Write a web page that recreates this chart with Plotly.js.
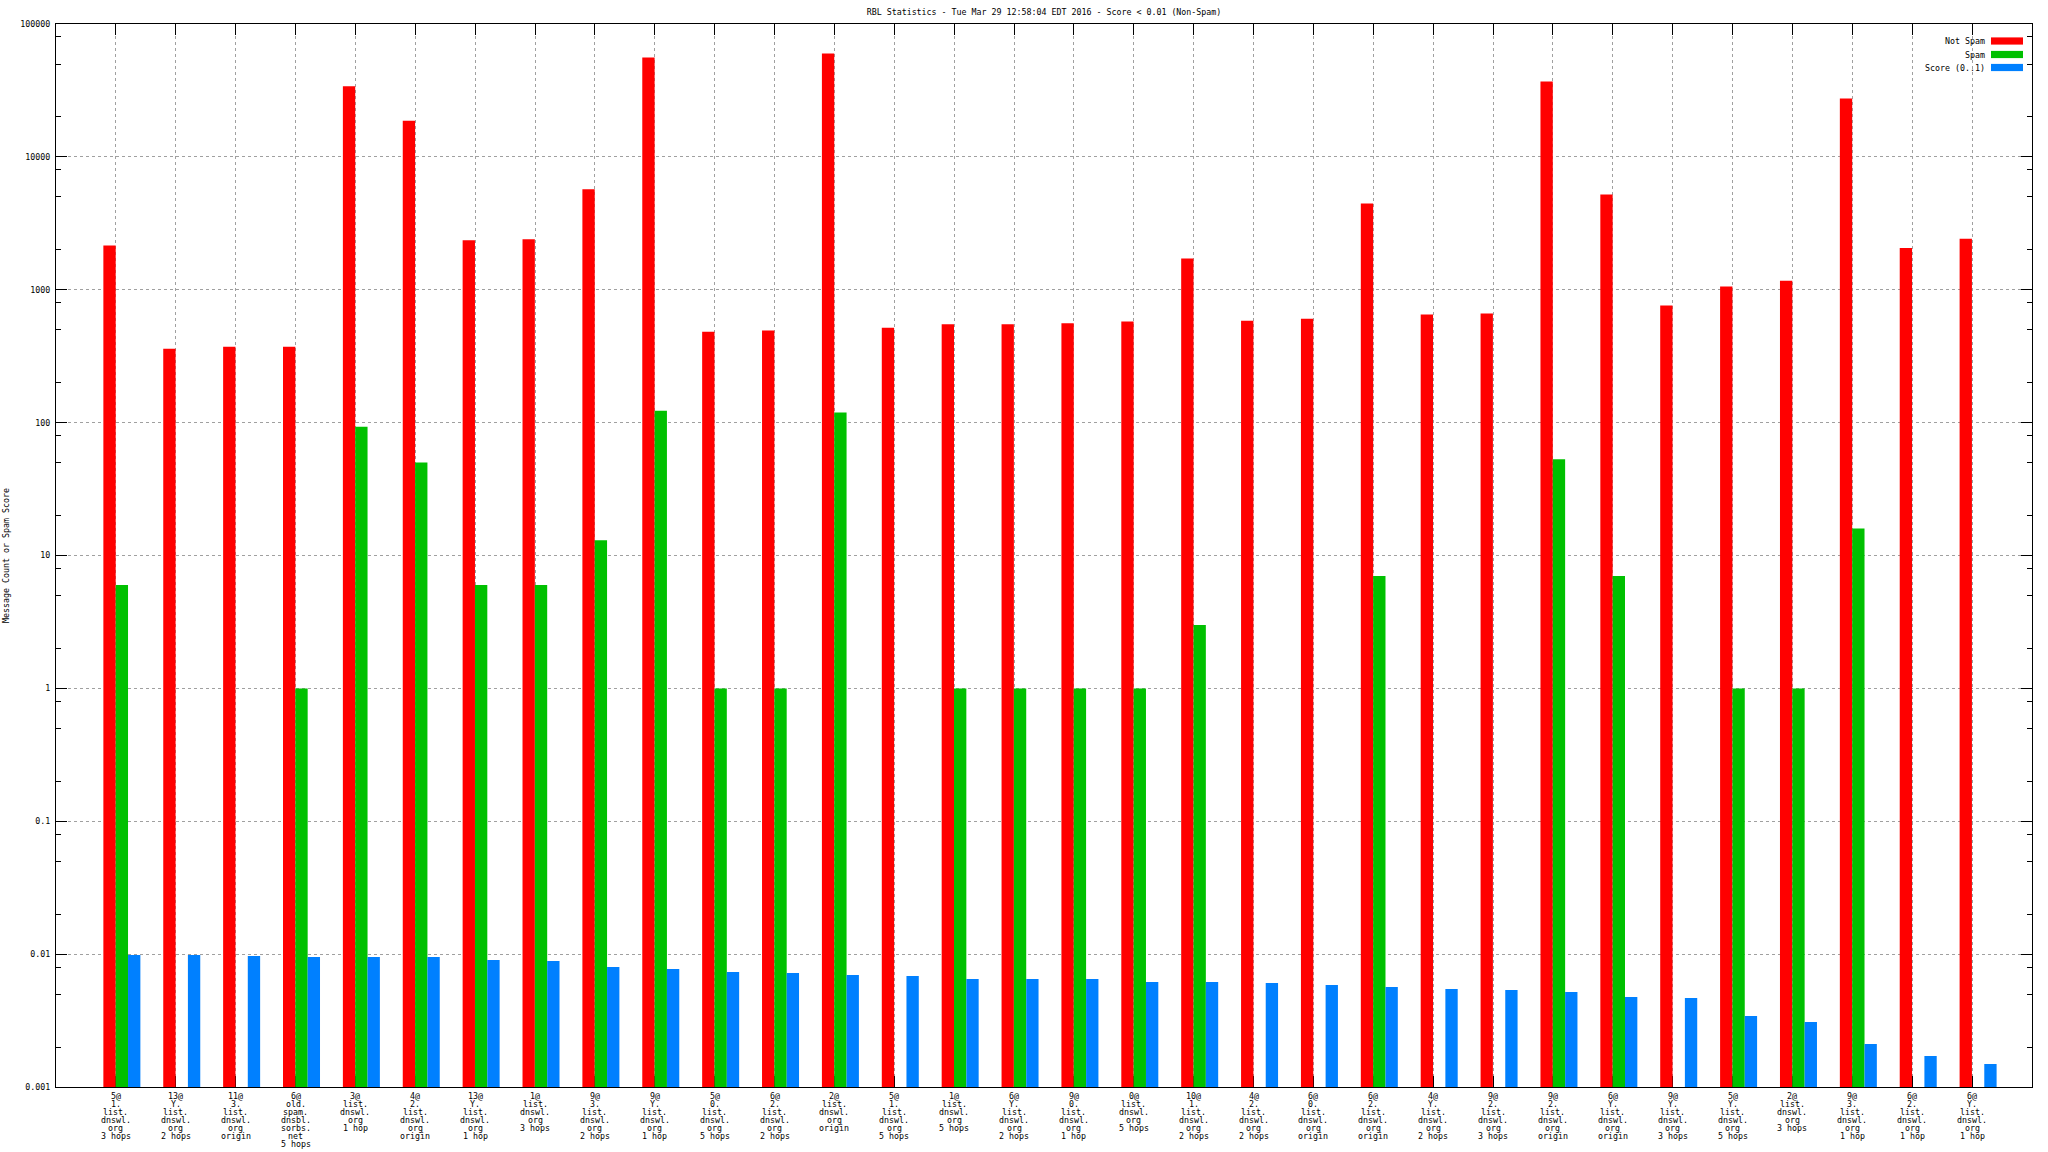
<!DOCTYPE html>
<html>
<head>
<meta charset="utf-8">
<script src="https://cdn.plot.ly/plotly-3.0.1.min.js"></script>
<style>
html,body{margin:0;padding:0;background:#fff;}
#chart{width:2048px;height:1152px;}
</style>
</head>
<body>
<div id="chart"></div>
<script>
// ---- data ----
const categories = [
  "5@\n1.\nlist.\ndnswl.\norg\n3 hops",
  "13@\nY.\nlist.\ndnswl.\norg\n2 hops",
  "11@\n3.\nlist.\ndnswl.\norg\norigin",
  "6@\nold.\nspam.\ndnsbl.\nsorbs.\nnet\n5 hops",
  "3@\nlist.\ndnswl.\norg\n1 hop",
  "4@\n2.\nlist.\ndnswl.\norg\norigin",
  "13@\nY.\nlist.\ndnswl.\norg\n1 hop",
  "1@\nlist.\ndnswl.\norg\n3 hops",
  "9@\n3.\nlist.\ndnswl.\norg\n2 hops",
  "9@\nY.\nlist.\ndnswl.\norg\n1 hop",
  "5@\n0.\nlist.\ndnswl.\norg\n5 hops",
  "6@\n2.\nlist.\ndnswl.\norg\n2 hops",
  "2@\nlist.\ndnswl.\norg\norigin",
  "5@\n1.\nlist.\ndnswl.\norg\n5 hops",
  "1@\nlist.\ndnswl.\norg\n5 hops",
  "6@\nY.\nlist.\ndnswl.\norg\n2 hops",
  "9@\n0.\nlist.\ndnswl.\norg\n1 hop",
  "0@\nlist.\ndnswl.\norg\n5 hops",
  "10@\n1.\nlist.\ndnswl.\norg\n2 hops",
  "4@\n2.\nlist.\ndnswl.\norg\n2 hops",
  "6@\n0.\nlist.\ndnswl.\norg\norigin",
  "6@\n2.\nlist.\ndnswl.\norg\norigin",
  "4@\nY.\nlist.\ndnswl.\norg\n2 hops",
  "9@\n2.\nlist.\ndnswl.\norg\n3 hops",
  "9@\n2.\nlist.\ndnswl.\norg\norigin",
  "6@\nY.\nlist.\ndnswl.\norg\norigin",
  "9@\nY.\nlist.\ndnswl.\norg\n3 hops",
  "5@\nY.\nlist.\ndnswl.\norg\n5 hops",
  "2@\nlist.\ndnswl.\norg\n3 hops",
  "9@\n3.\nlist.\ndnswl.\norg\n1 hop",
  "6@\n2.\nlist.\ndnswl.\norg\n1 hop",
  "6@\nY.\nlist.\ndnswl.\norg\n1 hop"
];
const notSpam = [2150, 360, 372, 372, 34000, 18700, 2360, 2400, 5700, 56000,
  483, 494, 60000, 518, 550, 550, 560, 578, 1720, 585,
  605, 4450, 650, 662, 37000, 5200, 760, 1060, 1170, 27500,
  2060, 2420];
const spam = [6, null, null, 1, 93, 50, 6, 6, 13, 123,
  1, 1, 119, null, 1, 1, 1, 1, 3, null,
  null, 7, null, null, 53, 7, null, 1, 1, 16,
  null, null];
const score = [0.00985, 0.00985, 0.00968, 0.00951, 0.00951, 0.00951, 0.00903, 0.00888, 0.0080, 0.00773,
  0.00734, 0.00721, 0.00697, 0.00684, 0.0065, 0.0065, 0.0065, 0.00617, 0.00617, 0.00606,
  0.00586, 0.00566, 0.00546, 0.00537, 0.00519, 0.00476, 0.00468, 0.00342, 0.00308, 0.00211,
  0.00171, 0.00149];
const seriesNames = ["Not Spam", "Spam", "Score (0..1)"];
const yTickVals = [0.001, 0.01, 0.1, 1, 10, 100, 1000, 10000, 100000];
const yTickText = ["0.001", "0.01", "0.1", "1", "10", "100", "1000", "10000", "100000"];
const titleText = "RBL Statistics - Tue Mar 29 12:58:04 EDT 2016 - Score < 0.01 (Non-Spam)";
const yTitle = "Message Count or Spam Score";

// ---- styling ----
const FONT = "DejaVu Sans Mono, monospace";
const FS = 8.3;
const colors = ["#ff0000", "#00c000", "#0080ff"];
const barW = 0.206;
const offsets = [-0.209, -0.003, 0.203];

const xs = categories.map((_, i) => i);
const values = [notSpam, spam, score];

const traces = values.map((v, k) => ({
  type: "bar",
  name: seriesNames[k],
  x: xs,
  y: v,
  width: barW,
  offset: offsets[k],
  marker: {color: colors[k], line: {width: 0}},
  showlegend: false,
  hoverinfo: "skip"
}));

// minor log ticks at 2,5,8 per decade
const minorVals = [];
for (let e = -3; e < 5; e++) {
  [2, 5, 8].forEach(m => minorVals.push(m * Math.pow(10, e)));
}

const ML = 56, MR = 16, MT = 24, MB = 65;
const W = 2048, H = 1152;
const plotW = W - ML - MR, plotH = H - MT - MB;
const pxX = px => (px - ML) / plotW;
const pxY = py => (H - MB - py) / plotH;

const annotations = [];
// category labels, one line per annotation for tight line spacing
categories.forEach((lab, i) => {
  lab.split("\n").forEach((line, j) => {
    annotations.push({
      x: i, xref: "x", y: 0, yref: "paper",
      text: line, showarrow: false,
      xanchor: "center", yanchor: "middle",
      yshift: -(8.5 + 8 * j),
      font: {family: FONT, size: FS, color: "#000"}
    });
  });
});
// legend text (right aligned, swatch to its right)
const legendY = [41, 54.5, 67.5];
seriesNames.forEach((n, k) => {
  annotations.push({
    x: pxX(1987), xref: "paper", y: pxY(legendY[k]), yref: "paper",
    text: n, showarrow: false, xanchor: "right", yanchor: "middle",
    font: {family: FONT, size: FS, color: "#000"}
  });
});
const shapes = seriesNames.map((n, k) => ({
  type: "rect", xref: "paper", yref: "paper",
  x0: pxX(1991), x1: pxX(2023),
  y0: pxY(legendY[k] + 3.6), y1: pxY(legendY[k] - 3.6),
  fillcolor: colors[k], line: {width: 0}
}));

const layout = {
  width: W, height: H,
  margin: {l: ML, r: MR, t: MT, b: MB, pad: 0},
  paper_bgcolor: "#fff", plot_bgcolor: "#fff",
  barmode: "overlay",
  showlegend: false,
  font: {family: FONT, size: FS, color: "#000"},
  title: {
    text: titleText,
    font: {family: FONT, size: FS, color: "#000"},
    x: 0.5, xref: "paper", xanchor: "center",
    y: 1 - 12 / H, yref: "container", yanchor: "middle"
  },
  xaxis: {
    range: [-1, 32],
    tickmode: "array", tickvals: xs, showticklabels: false,
    ticks: "inside", ticklen: 11, tickwidth: 1, tickcolor: "#000",
    showline: true, linecolor: "#000", linewidth: 1, mirror: "ticks",
    showgrid: true, gridcolor: "#a0a0a0", gridwidth: 1, griddash: "dot",
    zeroline: false, layer: "below traces", fixedrange: true
  },
  yaxis: {
    type: "log", range: [-3, 5],
    tickmode: "array", tickvals: yTickVals, ticktext: yTickText,
    ticks: "inside", ticklen: 11, tickwidth: 1, tickcolor: "#000",
    ticklabelstandoff: 3,
    tickfont: {family: FONT, size: FS, color: "#000"},
    showline: true, linecolor: "#000", linewidth: 1, mirror: "ticks",
    showgrid: true, gridcolor: "#a0a0a0", gridwidth: 1, griddash: "dot",
    zeroline: false, fixedrange: true,
    minor: {tickmode: "array", tickvals: minorVals, ticks: "inside", ticklen: 5,
            tickwidth: 1, tickcolor: "#000", showgrid: false},
    title: {text: yTitle, font: {family: FONT, size: FS, color: "#000"}, standoff: 9}
  },
  annotations: annotations,
  shapes: shapes
};

Plotly.newPlot("chart", traces, layout, {displayModeBar: false, staticPlot: true});
</script>
</body>
</html>
